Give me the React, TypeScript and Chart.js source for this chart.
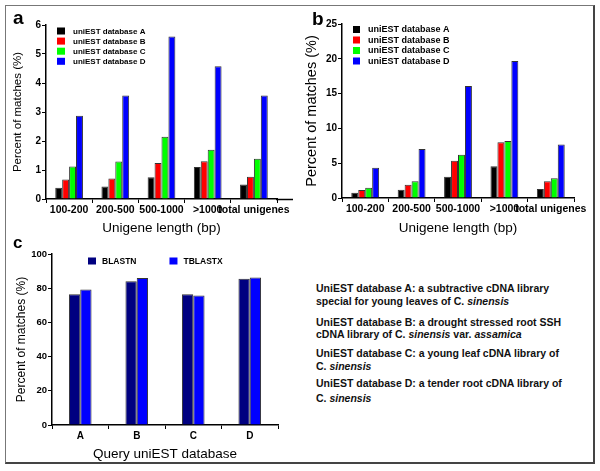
import React, { useEffect, useRef } from 'react';
import { Chart, registerables } from 'chart.js';

Chart.register(...registerables);

const FONT = "'Liberation Sans', Arial, Helvetica, sans-serif";

// ---------- DATA ----------
const lengthCategories = ['100-200', '200-500', '500-1000', '>1000', 'total unigenes'];
const seriesNames = ['uniEST database A', 'uniEST database B', 'uniEST database C', 'uniEST database D'];
const seriesColors = ['#000000', '#ff0000', '#00ff00', '#0000ff'];

// panel a
const aDbA = [0.39, 0.43, 0.75, 1.1, 0.5];
const aDbB = [0.67, 0.71, 1.24, 1.3, 0.77];
const aDbC = [1.12, 1.29, 2.15, 1.7, 1.39];
const aDbD = [2.87, 3.57, 5.6, 4.58, 3.57];

// panel b
const bDbA = [0.77, 1.2, 3.05, 4.57, 1.3];
const bDbB = [1.14, 1.9, 5.34, 8.0, 2.4];
const bDbC = [1.49, 2.4, 6.2, 8.2, 2.85];
const bDbD = [4.34, 7.05, 16.1, 19.7, 7.7];

// panel c
const queryCategories = ['A', 'B', 'C', 'D'];
const methodNames = ['BLASTN', 'TBLASTX'];
const methodColors = ['#000080', '#0000ff'];
const cBlastn = [76.5, 84, 76.5, 85.5];
const cTblastx = [79.3, 86, 75.8, 86.3];

const yTitleText = 'Percent of matches (%)';
const xTitleAB = 'Unigene length (bp)';
const xTitleC = 'Query uniEST database';

// ---------- PLUGINS ----------
const insideLegend = {
  id: 'insideLegend',
  afterDraw(chart: any, _args: any, opts: any) {
    if (!opts || !opts.show) return;
    const { ctx, chartArea } = chart;
    ctx.save();
    ctx.font = opts.font;
    ctx.textBaseline = 'middle';
    ctx.textAlign = 'left';
    let x = chartArea.left + opts.x;
    let y = chartArea.top + opts.y;
    chart.data.datasets.forEach((ds: any) => {
      ctx.fillStyle = ds.backgroundColor;
      ctx.fillRect(x, y - opts.boxH / 2, opts.boxW, opts.boxH);
      ctx.fillStyle = '#000';
      ctx.fillText(ds.label, x + opts.boxW + opts.textGap, y + 0.5);
      if (opts.horizontal) {
        x += opts.boxW + opts.textGap + ctx.measureText(ds.label).width + opts.itemGap;
      } else {
        y += opts.rowGap;
      }
    });
    ctx.restore();
  },
};

const axisExtend = {
  id: 'axisExtend',
  afterDraw(chart: any, _args: any, opts: any) {
    if (!opts || !opts.length) return;
    const { ctx, chartArea } = chart;
    ctx.save();
    ctx.strokeStyle = '#000';
    ctx.lineWidth = 1.5;
    ctx.beginPath();
    ctx.moveTo(chartArea.right - 1, chartArea.bottom + 0.5);
    ctx.lineTo(chartArea.right + opts.length, chartArea.bottom + 0.5);
    ctx.stroke();
    ctx.restore();
  },
};

type Spec = {
  labels: string[];
  names: string[];
  colors: string[];
  series: number[][];
  yMax: number;
  yStep: number;
  yTitleSize: number;
  yTitlePad: number;
  xTitle: string;
  xTitleSize: number;
  yWidth: number;
  xHeight: number;
  padding: { left: number; top: number; right: number; bottom: number };
  catPct: number;
  yTickSize: number;
  xTickSize: number;
  legend: any;
  extend: number;
};

function BarPanel({ spec, left, top, width, height }: { spec: Spec; left: number; top: number; width: number; height: number }) {
  const ref = useRef<HTMLCanvasElement | null>(null);
  useEffect(() => {
    if (!ref.current) return;
    const chart = new Chart(ref.current, {
      type: 'bar',
      data: {
        labels: spec.labels,
        datasets: spec.series.map((d, i) => ({
          label: spec.names[i],
          data: d,
          backgroundColor: spec.colors[i],
          borderColor: '#333333',
          borderWidth: 1,
          barPercentage: 1,
          categoryPercentage: spec.catPct,
        })),
      },
      options: {
        responsive: false,
        maintainAspectRatio: false,
        animation: false,
        layout: { padding: spec.padding },
        plugins: {
          legend: { display: false },
          tooltip: { enabled: false },
          insideLegend: spec.legend,
          axisExtend: { length: spec.extend },
        } as any,
        scales: {
          x: {
            type: 'category',
            grid: { display: true, drawOnChartArea: false, drawTicks: true, tickLength: 4, color: '#000', lineWidth: 1 },
            border: { display: true, color: '#000', width: 1.5 },
            ticks: {
              color: '#000',
              font: { family: FONT, size: spec.xTickSize, weight: 'bold' },
              maxRotation: 0,
              minRotation: 0,
              autoSkip: false,
              padding: 1,
            },
            title: {
              display: true,
              text: spec.xTitle,
              color: '#000',
              font: { family: FONT, size: spec.xTitleSize, weight: 'normal' },
              padding: 0,
            },
            afterFit: (scale: any) => {
              scale.height = spec.xHeight;
            },
          },
          y: {
            type: 'linear',
            min: 0,
            max: spec.yMax,
            grid: { display: true, drawOnChartArea: false, drawTicks: true, tickLength: 4, color: '#000', lineWidth: 1 },
            border: { display: true, color: '#000', width: 1.5 },
            ticks: {
              stepSize: spec.yStep,
              color: '#000',
              font: { family: FONT, size: spec.yTickSize, weight: 'bold' },
              padding: 1,
            },
            title: {
              display: true,
              text: yTitleText,
              color: '#000',
              font: { family: FONT, size: spec.yTitleSize, weight: 'normal' },
              padding: { top: spec.yTitlePad, bottom: 0 },
            },
            afterFit: (scale: any) => {
              scale.width = spec.yWidth;
            },
          },
        },
      } as any,
      plugins: [insideLegend as any, axisExtend as any],
    });
    return () => chart.destroy();
  }, [spec]);
  return (
    <canvas
      ref={ref}
      width={width}
      height={height}
      style={{ position: 'absolute', left, top, width, height }}
    />
  );
}

const specA: Spec = {
  labels: lengthCategories,
  names: seriesNames,
  colors: seriesColors,
  series: [aDbA, aDbB, aDbC, aDbD],
  yMax: 6,
  yStep: 1,
  yTitleSize: 11.5,
  yTitlePad: 5,
  xTitle: xTitleAB,
  xTitleSize: 13.5,
  yWidth: 40,
  xHeight: 37,
  padding: { left: 0, top: 19, right: 23, bottom: 0 },
  catPct: 0.6,
  yTickSize: 10,
  xTickSize: 10.5,
  legend: { show: true, x: 11, y: 6, boxW: 8, boxH: 7, textGap: 8, rowGap: 10.1, font: `bold 8px ${FONT}` },
  extend: 16,
};

const specB: Spec = {
  labels: lengthCategories,
  names: seriesNames,
  colors: seriesColors,
  series: [bDbA, bDbB, bDbC, bDbD],
  yMax: 25,
  yStep: 5,
  yTitleSize: 14.5,
  yTitlePad: 3,
  xTitle: xTitleAB,
  xTitleSize: 13.5,
  yWidth: 42,
  xHeight: 38,
  padding: { left: 0, top: 18, right: 20, bottom: 0 },
  catPct: 0.6,
  yTickSize: 10,
  xTickSize: 10.5,
  legend: { show: true, x: 11, y: 5.5, boxW: 7, boxH: 7, textGap: 8, rowGap: 10.5, font: `bold 9px ${FONT}` },
  extend: 0,
};

const specC: Spec = {
  labels: queryCategories,
  names: methodNames,
  colors: methodColors,
  series: [cBlastn, cTblastx],
  yMax: 100,
  yStep: 20,
  yTitleSize: 12,
  yTitlePad: 8,
  xTitle: xTitleC,
  xTitleSize: 13.5,
  yWidth: 46,
  xHeight: 37,
  padding: { left: 0, top: 18, right: 22, bottom: 0 },
  catPct: 0.4,
  yTickSize: 9.5,
  xTickSize: 10,
  legend: { show: true, horizontal: true, x: 36, y: 7, boxW: 8, boxH: 7, textGap: 6, itemGap: 33, font: `bold 8.5px ${FONT}` },
  extend: 0,
};

const descStyle: React.CSSProperties = {
  position: 'absolute',
  left: 316,
  fontFamily: FONT,
  fontWeight: 'bold',
  fontSize: 10.5,
  color: '#111',
  whiteSpace: 'nowrap',
};

const panelLabel: React.CSSProperties = {
  position: 'absolute',
  fontFamily: FONT,
  fontWeight: 'bold',
  lineHeight: 1,
  color: '#000',
};

export default function App() {
  return (
    <div style={{ position: 'absolute', left: 0, top: 0, width: 600, height: 471, background: '#fff', overflow: 'hidden' }}>
      <div
        style={{
          position: 'absolute',
          left: 5,
          top: 5,
          width: 587,
          height: 456,
          borderLeft: '1px solid #777',
          borderTop: '1px solid #777',
          borderRight: '2px solid #444',
          borderBottom: '2px solid #444',
        }}
      />
      <BarPanel spec={specA} left={6} top={6} width={294} height={230} />
      <BarPanel spec={specB} left={300} top={6} width={294} height={230} />
      <BarPanel spec={specC} left={6} top={236} width={294} height={226} />
      <div style={{ ...panelLabel, left: 13, top: 8, fontSize: 19 }}>a</div>
      <div style={{ ...panelLabel, left: 312, top: 9, fontSize: 19 }}>b</div>
      <div style={{ ...panelLabel, left: 13, top: 234, fontSize: 17 }}>c</div>

      <div style={{ ...descStyle, top: 282, lineHeight: '13px' }}>
        UniEST database A: a subtractive cDNA library
        <br />
        special for young leaves of C. <i>sinensis</i>
      </div>
      <div style={{ ...descStyle, top: 316, lineHeight: '12px' }}>
        UniEST database B: a drought stressed root SSH
        <br />
        cDNA library of C. <i>sinensis</i> var. <i>assamica</i>
      </div>
      <div style={{ ...descStyle, top: 347, lineHeight: '13px' }}>
        UniEST database C: a young leaf cDNA library of
        <br />
        C. <i>sinensis</i>
      </div>
      <div style={{ ...descStyle, top: 376, lineHeight: '15px' }}>
        UniEST database D: a tender root cDNA library of
        <br />
        C. <i>sinensis</i>
      </div>
    </div>
  );
}
